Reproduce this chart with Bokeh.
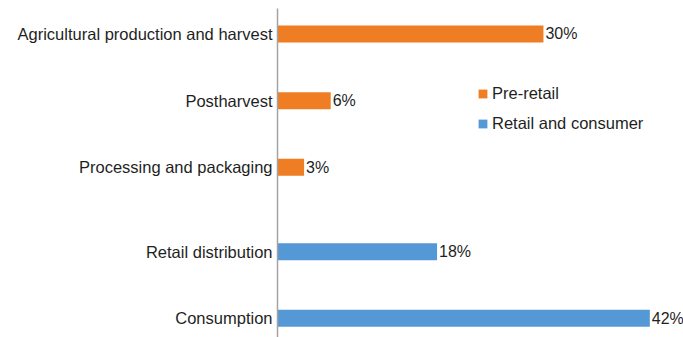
from bokeh.plotting import figure
from bokeh.models import (ColumnDataSource, Range1d, FixedTicker, LabelSet,
                          Legend, LegendItem, CDSView, GroupFilter)
from bokeh.core.properties import value
from bokeh.embed import file_html
from bokeh.resources import INLINE

# ---- data ----
categories = ["Agricultural production and harvest", "Postharvest",
              "Processing and packaging", "Retail distribution", "Consumption"]
stages = ["Pre-retail", "Pre-retail", "Pre-retail",
          "Retail and consumer", "Retail and consumer"]
shares = [30, 6, 3, 18, 42]
stage_names = ["Pre-retail", "Retail and consumer"]
stage_colors = ["#EE7D23", "#5498D5"]

# ---- derived ----
GROUP_GAP = 0.264
pos = [i + GROUP_GAP * stage_names.index(s) for i, s in enumerate(stages)]
labels = [f"{v}%" for v in shares]

src = ColumnDataSource(dict(cat=categories, stage=stages, share=shares,
                            pos=pos, label=labels))

FONT = "Liberation Sans"
FS = "16.5px"
TXT = "#1f1f1f"

p = figure(width=683, height=337, output_backend="svg", toolbar_location=None,
           x_range=Range1d(0, 45.8), y_range=Range1d(4.551, -0.382),
           min_border_left=277, min_border_right=0,
           min_border_top=8, min_border_bottom=0)
p.outline_line_color = None
p.grid.visible = False
p.xaxis.visible = False

renderers = []
for name, col in zip(stage_names, stage_colors):
    view = CDSView(filter=GroupFilter(column_name="stage", group=name))
    r = p.hbar(y="pos", left=0, right="share", height=0.255, fill_color=col,
               line_color=None, source=src, view=view)
    renderers.append(r)

ya = p.yaxis[0]
ya.ticker = FixedTicker(ticks=pos)
ya.major_label_overrides = {pp: c for pp, c in zip(pos, categories)}
ya.major_tick_in = 0
ya.major_tick_out = 0
ya.minor_tick_in = 0
ya.minor_tick_out = 0
ya.major_tick_line_color = None
ya.minor_tick_line_color = None
ya.major_label_standoff = 5
ya.axis_line_color = "#a3a3a3"
ya.axis_line_width = 1.5
ya.major_label_text_font = FONT
ya.major_label_text_font_size = FS
ya.major_label_text_color = TXT

lbls = LabelSet(x="share", y="pos", text="label", source=src, x_offset=2,
                text_baseline="middle", text_align="left",
                text_font=value(FONT), text_font_size=value("16px"),
                text_color=TXT)
p.add_layout(lbls)

items = [LegendItem(label=name, renderers=[r])
         for name, r in zip(stage_names, renderers)]
legend = Legend(items=items, location=(200, 204), glyph_width=11,
                glyph_height=11, label_height=20, label_standoff=4, spacing=10,
                padding=0, margin=0, border_line_color=None,
                background_fill_alpha=0, label_text_font=FONT,
                label_text_font_size=FS, label_text_color=TXT)
p.add_layout(legend)

open("out.html", "w").write(file_html(p, INLINE))
